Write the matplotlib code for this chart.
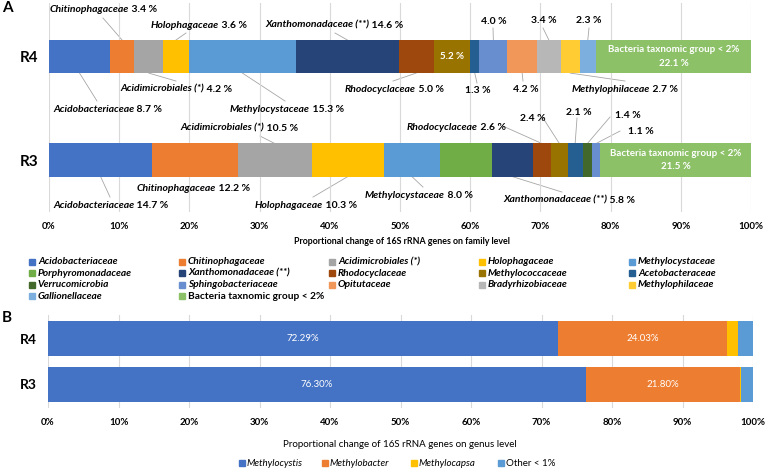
import matplotlib
matplotlib.use('Agg')
import matplotlib.pyplot as plt
from matplotlib.patches import Rectangle
import numpy as np

plt.rcParams['font.family'] = ['Lato', 'DejaVu Sans']

# ---- data: panel A (family level) ----
families = ['Acidobacteriaceae', 'Chitinophagaceae', 'Acidimicrobiales (*)', 'Holophagaceae',
            'Methylocystaceae', 'Porphyromonadaceae', 'Xanthomonadaceae (**)', 'Rhodocyclaceae',
            'Methylococcaceae', 'Acetobacteraceae', 'Verrucomicrobia', 'Sphingobacteriaceae',
            'Opitutaceae', 'Bradyrhizobiaceae', 'Methylophilaceae', 'Gallionellaceae',
            'Bacteria taxnomic group < 2%']
r4 = [8.7, 3.4, 4.2, 3.6, 15.3, 0.0, 14.6, 5.0, 5.2, 1.3, 0.0, 4.0, 4.2, 3.4, 2.7, 2.3, 22.1]
r3 = [14.7, 12.2, 10.5, 10.3, 8.0, 7.4, 5.8, 2.6, 2.4, 2.1, 1.4, 1.1, 0.0, 0.0, 0.0, 0.0, 21.5]
rows = ['R4', 'R3']

# ---- data: panel B (genus level) ----
genera = ['Methylocystis', 'Methylobacter', 'Methylocapsa', 'Other < 1%']
b_r4 = [72.29, 24.03, 1.6, 2.08]
b_r3 = [76.30, 21.80, 0.2, 1.70]

fam_colors = ['#4472C4', '#ED7D31', '#A5A5A5', '#FFC000', '#5B9BD5', '#70AD47', '#264478',
              '#9E480E', '#997300', '#255E91', '#43682B', '#698ED0', '#F1975A', '#B7B7B7',
              '#FFCD33', '#7CAFDD', '#8CC168']
gen_colors = ['#4472C4', '#ED7D31', '#FFC000', '#5B9BD5']

W, H = 766, 469
fig = plt.figure(figsize=(W / 100, H / 100), dpi=100)


def fx(px):
    return px / W


def fy(py):
    return 1 - py / H


grid_c = '#d9d9d9'
line_c = '#a6a6a6'

# ================= panel A =================
axA = fig.add_axes([fx(49), fy(212), 702 / W, (212 - 3) / H])
bh = 0.32
data = np.array([r4, r3])
lefts = np.zeros(2)
for i, fam in enumerate(families):
    axA.barh([0, 1], data[:, i], left=lefts, height=bh, color=fam_colors[i],
             edgecolor='none', zorder=2)
    lefts += data[:, i]
cum = np.hstack([np.zeros((2, 1)), np.cumsum(data, axis=1)])
centers = cum[:, :-1] + data / 2

axA.set_xlim(0, 100)
axA.set_ylim(1.502, -0.517)
axA.set_xticks(np.arange(0, 101, 10))
axA.set_xticklabels([f'{v}%' for v in range(0, 101, 10)], fontsize=7, fontweight='bold')
axA.set_yticks([0, 1])
axA.set_yticklabels(rows, fontsize=11, fontweight='bold')
axA.tick_params(length=0)
axA.tick_params(axis='x', pad=7)
axA.tick_params(axis='y', pad=8)
axA.grid(axis='x', color=grid_c, lw=0.8, zorder=0)
for s in axA.spines.values():
    s.set_visible(False)


def ax_x(px):
    return (px - 49) / 7.02


def ax_y(py):
    return (py - 56.5) / 103.5


# row, segment, show name, text left px, text y px, line start px (x, y) or None, bar edge
labels = [
    (0, 1, True, 50, 9, (103, 18), 'top'),
    (0, 3, True, 151, 25, (186, 33), 'top'),
    (0, 6, True, 265, 25, (335, 33), 'top'),
    (0, 11, False, 481, 21, (493, 28), 'top'),
    (0, 13, False, 531, 20, (543, 28), 'top'),
    (0, 15, False, 576, 20, (589, 28), 'top'),
    (0, 0, True, 53, 109, (97, 101), 'bottom'),
    (0, 2, True, 120, 89, (176, 81), 'bottom'),
    (0, 4, True, 230, 109, (285, 101), 'bottom'),
    (0, 7, True, 345, 89, (393, 81), 'bottom'),
    (0, 9, False, 465, 90, (477, 83), 'bottom'),
    (0, 12, False, 513, 89, (523, 81), 'bottom'),
    (0, 14, True, 572, 89, (625, 81), 'bottom'),
    (1, 2, True, 180, 128, (260, 136), 'top'),
    (1, 7, True, 407, 127, (505, 127), 'top'),
    (1, 8, False, 520, 118, (543, 118), 'top'),
    (1, 9, False, 566, 112, (577, 118), 'top'),
    (1, 10, False, 615, 115, (610, 117), 'top'),
    (1, 11, False, 628, 131, (620, 131), 'top'),
    (1, 0, True, 53, 205, (110, 197), 'bottom'),
    (1, 1, True, 137, 188, None, 'bottom'),
    (1, 3, True, 255, 205, (313, 197), 'bottom'),
    (1, 4, True, 365, 195, (423, 187), 'bottom'),
    (1, 6, True, 503, 200, (562, 192), 'bottom'),
]

fs = 7.5
for r, idx, show_name, tx, ty, start, edge in labels:
    val = f'{data[r, idx]:.1f} %'
    if show_name:
        t = axA.text(ax_x(tx), ax_y(ty), families[idx], fontsize=fs, fontweight='bold',
                     fontstyle='italic', ha='left', va='center', zorder=3)
        axA.annotate(' ' + val, xy=(1, 0), xycoords=t, fontsize=fs, fontweight='bold',
                     ha='left', va='bottom', zorder=3)
    else:
        axA.text(ax_x(tx), ax_y(ty), val, fontsize=fs, fontweight='bold',
                 ha='left', va='center', zorder=3)
    if start is not None:
        ey = r - bh / 2 if edge == 'top' else r + bh / 2
        axA.plot([ax_x(start[0]), centers[r, idx]], [ax_y(start[1]), ey],
                 color=line_c, lw=0.6, zorder=1)

# labels inside bars
axA.text(centers[0, 8], 0, f'{r4[8]:.1f} %', color='white', fontsize=7,
         fontweight='bold', ha='center', va='center', zorder=3)
for r in range(2):
    axA.text(centers[r, 16], r, f'{families[16]}\n{data[r, 16]:.1f} %', color='white',
             fontsize=7, fontweight='bold', ha='center', va='center',
             linespacing=1.6, zorder=3)

fig.text(fx(402), fy(241), 'Proportional change of 16S rRNA genes on family level',
         fontsize=6.4, fontweight='bold', ha='center', va='center')

# legend A (row-major, 5 columns)
for i, fam in enumerate(families):
    c, rr = i % 5, i // 5
    x0, y0 = 29 + c * 150, 262 + rr * 11.4
    fig.patches.append(Rectangle((fx(x0), fy(y0 + 3)), 6 / W, 6 / H, color=fam_colors[i],
                                 transform=fig.transFigure, figure=fig))
    fig.text(fx(x0 + 9), fy(y0), fam, fontsize=7.3, fontweight='bold',
             fontstyle='normal' if i == 16 else 'italic', ha='left', va='center')

# ================= panel B =================
axB = fig.add_axes([fx(48), fy(408), 705 / W, (408 - 315) / H])
bdata = np.array([b_r4, b_r3])
lefts = np.zeros(2)
for i, g in enumerate(genera):
    axB.barh([0, 1], bdata[:, i], left=lefts, height=0.76, color=gen_colors[i],
             edgecolor='none', zorder=2)
    lefts += bdata[:, i]
bcum = np.hstack([np.zeros((2, 1)), np.cumsum(bdata, axis=1)])
bcenters = bcum[:, :-1] + bdata / 2
for r in range(2):
    for i in range(2):
        axB.text(bcenters[r, i], r, f'{bdata[r, i]:.2f}%', color='white', fontsize=7,
                 ha='center', va='center', zorder=3)

axB.set_xlim(0, 100)
axB.set_ylim(1.511, -0.511)
axB.set_xticks(np.arange(0, 101, 10))
axB.set_xticklabels([f'{v}%' for v in range(0, 101, 10)], fontsize=7, fontweight='bold')
axB.set_yticks([0, 1])
axB.set_yticklabels(rows, fontsize=10, fontweight='bold')
axB.tick_params(length=0)
axB.tick_params(axis='x', pad=7)
axB.tick_params(axis='y', pad=8)
axB.grid(axis='x', color=grid_c, lw=0.8, zorder=0)
for s in axB.spines.values():
    s.set_visible(False)

fig.text(fx(400), fy(444), 'Proportional change of 16S rRNA genes on genus level',
         fontsize=7, ha='center', va='center')

# legend B
leg_x = [239, 322, 411, 498]
for i, g in enumerate(genera):
    x0, y0 = leg_x[i], 463
    fig.patches.append(Rectangle((fx(x0), fy(y0 + 3)), 6 / W, 6 / H, color=gen_colors[i],
                                 transform=fig.transFigure, figure=fig))
    fig.text(fx(x0 + 8), fy(y0), g, fontsize=7,
             fontstyle='normal' if i == 3 else 'italic', ha='left', va='center')

fig.text(fx(2), fy(8), 'A', fontsize=11, fontweight='bold', ha='left', va='center')
fig.text(fx(2), fy(318), 'B', fontsize=11, fontweight='bold', ha='left', va='center')

fig.savefig('out.png', dpi=100)
